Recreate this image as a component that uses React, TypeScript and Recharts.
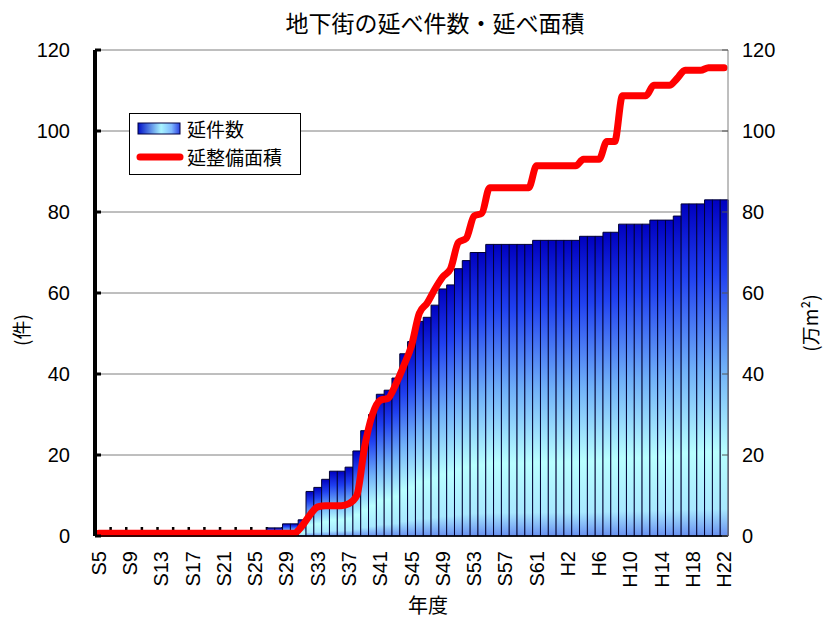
import React from "react";
import { ComposedChart, Bar, Line, XAxis, YAxis, CartesianGrid, Legend, Label } from "recharts";

// ---- data ----
const categories = [
  "S5", "S6", "S7", "S8", "S9", "S10", "S11", "S12", "S13", "S14",
  "S15", "S16", "S17", "S18", "S19", "S20", "S21", "S22", "S23", "S24",
  "S25", "S26", "S27", "S28", "S29", "S30", "S31", "S32", "S33", "S34",
  "S35", "S36", "S37", "S38", "S39", "S40", "S41", "S42", "S43", "S44",
  "S45", "S46", "S47", "S48", "S49", "S50", "S51", "S52", "S53", "S54",
  "S55", "S56", "S57", "S58", "S59", "S60", "S61", "S62", "S63",
  "H1", "H2", "H3", "H4", "H5", "H6", "H7", "H8", "H9", "H10",
  "H11", "H12", "H13", "H14", "H15", "H16", "H17", "H18", "H19", "H20",
  "H21", "H22",
];

// 延件数 (件)
const counts = [
  1, 1, 1, 1, 1, 1, 1, 1, 1, 1,
  1, 1, 1, 1, 1, 1, 1, 1, 1, 1,
  1, 1, 2, 2, 3, 3, 4, 11, 12, 14,
  16, 16, 17, 21, 26, 30, 35, 36, 39, 45,
  48, 53, 54, 57, 61, 62, 66, 68, 70, 70,
  72, 72, 72, 72, 72, 72, 73, 73, 73, 73,
  73, 73, 74, 74, 74, 75, 75, 77, 77, 77,
  77, 78, 78, 78, 79, 82, 82, 82, 83, 83,
  83,
];

// 延整備面積 (万m²)
const areas = [
  0.7, 0.7, 0.7, 0.7, 0.7, 0.7, 0.7, 0.7, 0.7, 0.7,
  0.7, 0.7, 0.7, 0.7, 0.7, 0.7, 0.7, 0.7, 0.7, 0.7,
  0.7, 0.7, 0.7, 0.7, 0.7, 0.7, 2.5, 5.2, 7.2, 7.5,
  7.5, 7.5, 8, 10, 22, 30, 33.5, 34, 37.5, 42,
  47, 55, 57.5, 61, 64, 66, 72.5, 73.5, 79, 79.7,
  86, 86, 86, 86, 86, 86, 91.4, 91.4, 91.4, 91.4,
  91.4, 91.4, 93, 93, 93, 97.4, 97.4, 108.7, 108.7, 108.7,
  108.7, 111.3, 111.3, 111.3, 113, 115, 115, 115, 115.6, 115.6,
  115.6,
];

const yTicks = [0, 20, 40, 60, 80, 100, 120];
const titleText = "地下街の延べ件数・延べ面積";
const countName = "延件数";
const areaName = "延整備面積";
const leftAxisTitle = "(件)";
const rightAxisTitle = "(万m²)";
const xAxisTitle = "年度";

const data = categories.map((c, i) => ({ year: c, count: counts[i], area: areas[i] }));

// ---- layout ----
const W = 825;
const H = 620;
const LEFT_W = 95;
const RIGHT_W = 97;
const TOP = 50;
const X_H = 84;

const LATIN = "'Liberation Sans', Arial, Helvetica, sans-serif";
const CJK = "'Noto Sans CJK JP', 'Noto Sans', sans-serif";

// minor tick marks (inside, at every second category boundary) drawn under the bars
const tickMarkGenerator = ({ offset }: any) => {
  const n = categories.length;
  const res: number[] = [];
  for (let i = 2; i < n; i += 2) res.push(offset.left + (offset.width * i) / n);
  return res;
};

const XTick = (props: any) => {
  const { x, y, payload } = props;
  const i = payload.index;
  if (i % 4 !== 0) return <g />;
  return (
    <text
      transform={`translate(${x + 7}, ${y + 15}) rotate(-90)`}
      textAnchor="end"
      fontSize={20}
      fontFamily={LATIN}
      fill="#000"
    >
      {payload.value}
    </text>
  );
};

const LeftTick = (props: any) => {
  const { x, y, payload } = props;
  return (
    <g>
      <line x1={x} x2={x + 6} y1={y} y2={y} stroke="#000" strokeWidth={3} />
      <text x={x - 25} y={y} textAnchor="end" dominantBaseline="central" fontSize={20} fontFamily={LATIN} fill="#000">
        {payload.value}
      </text>
    </g>
  );
};

const RightTick = (props: any) => {
  const { x, y, payload } = props;
  return (
    <g>
      <line x1={x - 6} x2={x} y1={y} y2={y} stroke="#555" strokeWidth={1} />
      <text x={x + 14} y={y} textAnchor="start" dominantBaseline="central" fontSize={20} fontFamily={LATIN} fill="#000">
        {payload.value}
      </text>
    </g>
  );
};

const LegendBox = () => (
  <div
    style={{
      position: "relative",
      width: 172,
      height: 62,
      boxSizing: "border-box",
      border: "1.5px solid #000",
      background: "#fff",
      fontFamily: CJK,
      fontSize: 19,
      color: "#000",
    }}
  >
    <svg width={60} height={62} style={{ position: "absolute", left: 0, top: 0 }}>
      <defs>
        <linearGradient id="legGrad" x1="0" y1="0" x2="1" y2="0">
          <stop offset="0" stopColor="#0010c8" />
          <stop offset="0.55" stopColor="#a8f4ff" />
          <stop offset="0.8" stopColor="#7fb8ff" />
          <stop offset="1" stopColor="#2a40e0" />
        </linearGradient>
      </defs>
      <rect x={8} y={9} width={42} height={11} fill="url(#legGrad)" stroke="#000040" strokeWidth={1} />
      <line x1={10} x2={50} y1={43} y2={43} stroke="#ff0000" strokeWidth={7} strokeLinecap="round" />
    </svg>
    <div style={{ position: "absolute", left: 57, top: 1, lineHeight: "28px", whiteSpace: "nowrap" }}>{countName}</div>
    <div style={{ position: "absolute", left: 57, top: 29, lineHeight: "28px", whiteSpace: "nowrap" }}>{areaName}</div>
  </div>
);

export default function App() {
  return (
    <div style={{ position: "absolute", left: 0, top: 0, width: W, height: H, background: "#fff" }}>
      <div
        style={{
          position: "absolute",
          left: 0,
          width: 870,
          top: 7,
          textAlign: "center",
          fontFamily: CJK,
          fontSize: 23,
          lineHeight: "30px",
          color: "#000",
          zIndex: 2,
        }}
      >
        {titleText}
      </div>
      <ComposedChart
        width={W}
        height={H}
        data={data}
        margin={{ top: TOP, right: 0, bottom: 0, left: 0 }}
        barCategoryGap={0}
        barGap={0}
      >
        <defs>
          <linearGradient id="barGrad" x1="0" y1="0" x2="0" y2="1">
            <stop offset="0" stopColor="#0000c0" />
            <stop offset="0.22" stopColor="#2040f0" />
            <stop offset="0.5" stopColor="#70b0f8" />
            <stop offset="0.75" stopColor="#b8ffff" />
            <stop offset="0.92" stopColor="#a8e8ff" />
            <stop offset="1" stopColor="#6890f0" />
          </linearGradient>
        </defs>
        <CartesianGrid yAxisId="left" vertical={false} stroke="#7f7f7f" strokeWidth={1} />
        <CartesianGrid
          yAxisId="left"
          horizontal={false}
          verticalCoordinatesGenerator={tickMarkGenerator}
          stroke="#000"
          strokeWidth={2.5}
          strokeDasharray="0 477 9 40"
        />
        <XAxis
          dataKey="year"
          interval={0}
          height={X_H}
          tickLine={false}
          tickSize={0}
          tickMargin={0}
          axisLine={{ stroke: "#000", strokeWidth: 1.5 }}
          tick={<XTick />}
        >
          <Label
            content={() => (
              <text x={428} y={613} textAnchor="middle" fontSize={20} fontFamily={CJK} fill="#000">
                {xAxisTitle}
              </text>
            )}
          />
        </XAxis>
        <YAxis
          yAxisId="left"
          orientation="left"
          width={LEFT_W}
          domain={[0, 120]}
          ticks={yTicks}
          interval={0}
          tickLine={false}
          tickSize={0}
          tickMargin={0}
          axisLine={{ stroke: "#000", strokeWidth: 4 }}
          tick={<LeftTick />}
        >
          <Label
            content={() => (
              <text
                transform="translate(29, 330) rotate(-90)"
                textAnchor="middle"
                fontSize={19}
                fontFamily={CJK}
                fill="#000"
              >
                {leftAxisTitle}
              </text>
            )}
          />
        </YAxis>
        <YAxis
          yAxisId="right"
          orientation="right"
          width={RIGHT_W}
          domain={[0, 120]}
          ticks={yTicks}
          interval={0}
          tickLine={false}
          tickSize={0}
          tickMargin={0}
          axisLine={{ stroke: "#7f7f7f", strokeWidth: 1 }}
          tick={<RightTick />}
        >
          <Label
            content={() => (
              <text
                transform="translate(818, 323) rotate(-90)"
                textAnchor="middle"
                fontSize={19}
                fontFamily={CJK}
                fill="#000"
              >
                {rightAxisTitle}
              </text>
            )}
          />
        </YAxis>
        <Legend
          layout="horizontal"
          verticalAlign="middle"
          align="center"
          wrapperStyle={{ left: 129, top: 113, width: "auto", height: "auto" }}
          content={() => <LegendBox />}
        />
        <Bar
          yAxisId="left"
          dataKey="count"
          name={countName}
          fill="url(#barGrad)"
          stroke="#000033"
          strokeWidth={1}
          isAnimationActive={false}
        />
        <Line
          yAxisId="right"
          dataKey="area"
          name={areaName}
          type="monotone"
          stroke="#ff0000"
          strokeWidth={7}
          strokeLinecap="round"
          strokeLinejoin="round"
          dot={false}
          activeDot={false}
          isAnimationActive={false}
        />
      </ComposedChart>
    </div>
  );
}
